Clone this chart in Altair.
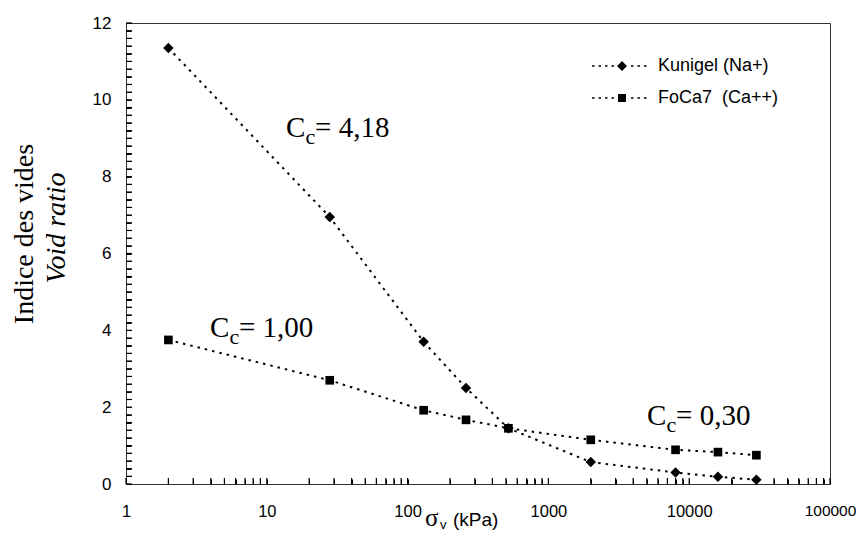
import altair as alt
import pandas as pd

# ---- data ----
series_names = ["Kunigel (Na+)", "FoCa7\u00a0\u00a0(Ca++)"]
sigma_kpa = [2, 28, 130, 260, 520, 2000, 8000, 16000, 30000]
kunigel_e = [11.35, 6.95, 3.70, 2.50, 1.45, 0.57, 0.30, 0.19, 0.11]
foca7_e = [3.75, 2.70, 1.92, 1.67, 1.45, 1.15, 0.89, 0.83, 0.75]

x_major = [1, 10, 100, 1000, 10000, 100000]
y_major = [0, 2, 4, 6, 8, 10, 12]

ann_x = [13.7, 3.95, 5020]
ann_y = [9.04, 3.83, 1.54]
ann_val = ["= 4,18", "= 1,00", "= 0,30"]

# ---- tables ----
df = pd.DataFrame({
    "x": sigma_kpa * 2,
    "e": kunigel_e + foca7_e,
    "series": [series_names[0]] * len(sigma_kpa) + [series_names[1]] * len(sigma_kpa),
})
ann = pd.DataFrame({"x": ann_x, "e": ann_y, "v": ann_val, "C": ["C"] * 3, "c": ["c"] * 3})

x_ticks = [m * d for d in [1, 10, 100, 1000, 10000] for m in range(1, 10)] + [100000]
y_ticks = [round(k * 0.2, 1) for k in range(0, 61)]
xt_df = pd.DataFrame({"x": x_ticks})
yt_df = pd.DataFrame({"e": y_ticks})

x_scale = alt.Scale(type="log", domain=[1, 100000], nice=False)
y_scale = alt.Scale(domain=[0, 12], nice=False, zero=False)

x_axis = alt.Axis(
    values=x_ticks, title=None, grid=False, domain=False,
    labelExpr="indexof([1,10,100,1000,10000,100000], datum.value) >= 0 ? format(datum.value, 'd') : ''",
    labelFont="Liberation Sans",
    labelFontSize={"condition": {"test": "datum.value >= 100000", "value": 15.5}, "value": 16.5},
    labelColor="black",
    labelFlush=False, labelOverlap=False, labelPadding=19,
    ticks=True, tickSize=5, tickColor="black", tickWidth=1, tickOpacity=1, offset=-5, zindex=2,
)
y_axis = alt.Axis(
    values=y_ticks, title=None, grid=False, domain=False,
    labelExpr="abs(datum.value - round(datum.value / 2) * 2) < 0.001 ? format(datum.value, 'd') : ''",
    labelFont="Liberation Sans", labelFontSize=17, labelColor="black",
    labelFlush=False, labelOverlap=False, labelPadding=15,
    ticks=True, tickSize=5, tickColor="black", tickWidth=1, tickOpacity=1, offset=-5, zindex=2,
)

X = alt.X("x:Q", scale=x_scale, axis=x_axis)
Y = alt.Y("e:Q", scale=y_scale, axis=y_axis)

base = alt.Chart(df)

# tick marks drawn through the scales (inward ticks)
x_tick_marks = alt.Chart(xt_df).mark_tick(color="black", opacity=1, thickness=1.2, size=6, orient="vertical").encode(
    x=X, y=alt.value(458))
y_tick_marks = alt.Chart(yt_df).mark_tick(color="black", opacity=1, thickness=1.2, size=6, orient="horizontal").encode(
    y=Y, x=alt.value(3))

lines = base.mark_line(color="black", strokeWidth=2, strokeDash=[2.5, 5]).encode(
    x=X, y=Y, detail="series:N",
)

pts_k = base.transform_filter(alt.datum.series == series_names[0]).mark_point(
    shape="diamond", filled=True, color="black", size=110, opacity=1
).encode(x=X, y=Y)

pts_f = base.transform_filter(alt.datum.series == series_names[1]).mark_point(
    shape="square", filled=True, color="black", size=75, opacity=1
).encode(x=X, y=Y)

dashes = ("M-28,-0.8h2.5v1.6h-2.5Z M-21.5,-0.8h2.5v1.6h-2.5Z M-15,-0.8h2.5v1.6h-2.5Z "
          "M-8.5,-0.8h2.5v1.6h-2.5Z M11,-0.8h2.5v1.6h-2.5Z M17.5,-0.8h2.5v1.6h-2.5Z M24,-0.8h2.5v1.6h-2.5Z ")
diamond_path = dashes + "M2,-5L7,0L2,5L-3,0Z"
square_path = dashes + "M-2,-4L6,-4L6,4L-2,4Z"

legend_layer = base.transform_filter("datum.x < 0").mark_point(
    filled=True, color="black", opacity=1
).encode(
    shape=alt.Shape(
        "series:N",
        scale=alt.Scale(domain=series_names, range=[diamond_path, square_path]),
        legend=alt.Legend(
            title=None, orient="none", legendX=485, legendY=34, padding=0,
            symbolSize=4, symbolFillColor="black", symbolStrokeColor="black",
            symbolStrokeWidth=0, symbolOpacity=1,
            labelFont="Liberation Sans", labelFontSize=18, labelColor="black",
            labelOffset=29, rowPadding=14, labelLimit=300,
        ),
    )
)

ann_base = alt.Chart(ann)
ann_C = ann_base.mark_text(font="Liberation Serif", fontSize=29, align="left", baseline="alphabetic", color="black").encode(
    x=X, y=Y, text="C:N")
ann_c = ann_base.mark_text(font="Liberation Serif", fontSize=22, align="left", baseline="alphabetic", color="black", dx=19.5, dy=7).encode(
    x=X, y=Y, text="c:N")
ann_v = ann_base.mark_text(font="Liberation Serif", fontSize=29, align="left", baseline="alphabetic", color="black", dx=29).encode(
    x=X, y=Y, text="v:N")

one = pd.DataFrame({"t": [0]})
ytitle1 = alt.Chart(one).mark_text(text="Indice des vides", font="Liberation Serif", fontSize=28, angle=270,
                                   align="center", baseline="alphabetic", color="black").encode(
    x=alt.value(-93), y=alt.value(211))
ytitle2 = alt.Chart(one).mark_text(text="Void ratio", font="Liberation Serif", fontSize=28, fontStyle="italic", angle=270,
                                   align="center", baseline="alphabetic", color="black").encode(
    x=alt.value(-61), y=alt.value(205))
xt_sigma = alt.Chart(one).mark_text(text="σ", font="Liberation Serif", fontSize=25, align="left",
                                    baseline="alphabetic", color="black").encode(x=alt.value(299), y=alt.value(503))
xt_v = alt.Chart(one).mark_text(text="v", font="Liberation Sans", fontSize=13, align="left",
                                baseline="alphabetic", color="black").encode(x=alt.value(314), y=alt.value(506))
xt_kpa = alt.Chart(one).mark_text(text="(kPa)", font="Liberation Sans", fontSize=19, align="left",
                                  baseline="alphabetic", color="black").encode(x=alt.value(327), y=alt.value(503))

chart = alt.layer(
    x_tick_marks, y_tick_marks,
    lines, pts_k, pts_f, legend_layer, ann_C, ann_c, ann_v,
    ytitle1, ytitle2, xt_sigma, xt_v, xt_kpa,
).resolve_scale(shape="independent").properties(
    width=704, height=461,
    autosize=alt.AutoSizeParams(type="none"),
    padding={"left": 118, "top": 15, "right": 26, "bottom": 49},
    background="white",
).configure_view(stroke="#333", strokeWidth=1)

chart.save("out.html", embed_options={"renderer": "svg", "actions": False})
